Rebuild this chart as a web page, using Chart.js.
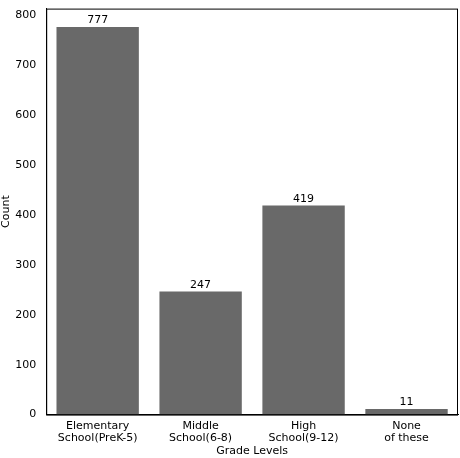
<!DOCTYPE html>
<html>
<head>
<script src="https://cdn.jsdelivr.net/npm/chart.js@4"></script>
<style>body{margin:0;background:#fff}#wrap{width:460px;height:458px}</style>
</head>
<body>
<div id="wrap"><canvas id="c"></canvas></div>
<script>
const categories = [['Elementary', 'School(PreK-5)'], ['Middle', 'School(6-8)'], ['High', 'School(9-12)'], ['None', 'of these']];
const counts = [777, 247, 419, 11];
const yTicks = [0, 100, 200, 300, 400, 500, 600, 700, 800];

const barLabels = {
    id: 'barLabels',
    afterDatasetsDraw(chart) {
        const ctx = chart.ctx;
        ctx.save();
        ctx.font = '11px "DejaVu Sans"';
        ctx.fillStyle = '#000';
        ctx.textAlign = 'center';
        ctx.textBaseline = 'bottom';
        chart.getDatasetMeta(0).data.forEach((bar, i) => {
            ctx.fillText(counts[i], bar.x, bar.y - 1);
        });
        // frame around the plot area
        const a = chart.chartArea;
        ctx.strokeStyle = '#000';
        ctx.lineWidth = 1;
        ctx.strokeRect(a.left + 0.5, a.top + 0.5, a.right - a.left - 1, a.bottom - a.top);
        ctx.restore();
    }
};

new Chart(document.getElementById('c'), {
    type: 'bar',
    data: {
        labels: categories,
        datasets: [{ data: counts, backgroundColor: '#696969', barPercentage: 0.8, categoryPercentage: 1 }]
    },
    options: {
        responsive: true,
        maintainAspectRatio: false,
        animation: false,
        layout: { padding: { top: 2, right: 2, bottom: 0 } },
        plugins: { legend: { display: false }, tooltip: { enabled: false } },
        scales: {
            x: {
                offset: true,
                grid: { display: false, drawTicks: true, tickLength: 4 },
                border: { color: '#000' },
                ticks: { color: '#000', font: { family: 'DejaVu Sans', size: 11, lineHeight: 1.1 }, maxRotation: 0, padding: 1 },
                title: { display: true, text: 'Grade Levels', color: '#000', font: { family: 'DejaVu Sans', size: 11 }, padding: 0 }
            },
            y: {
                min: 0,
                max: 814,
                afterBuildTicks: axis => { axis.ticks = yTicks.map(v => ({ value: v })); },
                grid: { display: false },
                border: { color: '#000' },
                ticks: { color: '#000', font: { family: 'DejaVu Sans', size: 11 }, padding: 2 },
                title: { display: true, text: 'Count', color: '#000', font: { family: 'DejaVu Sans', size: 11 }, padding: 0 }
            }
        }
    },
    plugins: [barLabels]
});
</script>
</body>
</html>
